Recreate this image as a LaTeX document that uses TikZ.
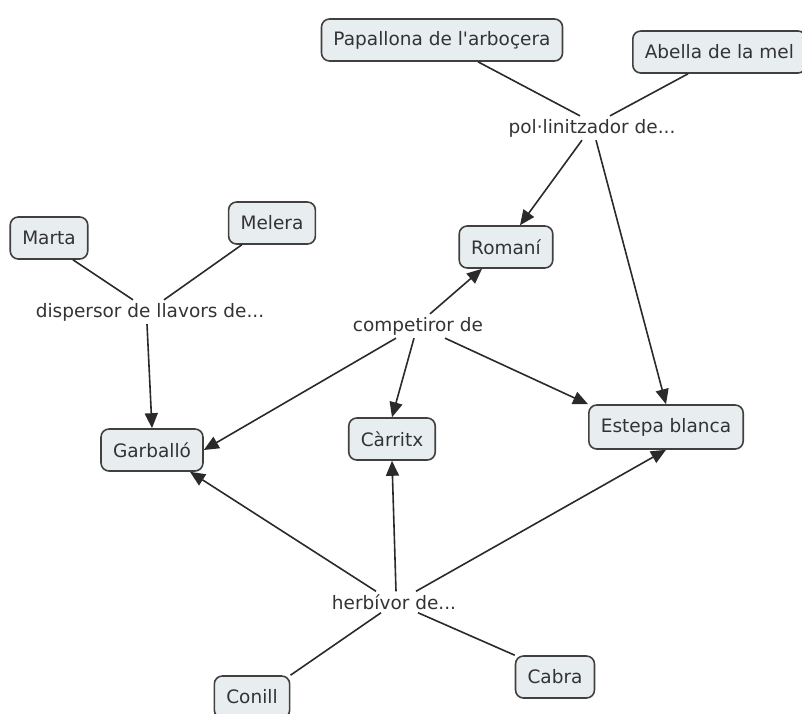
\documentclass[tikz,border=0pt]{standalone}
\usepackage{fontspec}
\setmainfont{DejaVu Sans}
\usetikzlibrary{arrows.meta,calc}
\definecolor{boxfill}{HTML}{E8EEF0}
\definecolor{boxline}{HTML}{404040}
\definecolor{txt}{HTML}{333333}
\definecolor{edge}{HTML}{2A2A2A}
\begin{document}
\begin{tikzpicture}[x=1pt,y=-1pt,
  concept/.style={draw=boxline,line width=1.6pt,fill=boxfill,rounded corners=8pt,
    text=txt,font=\fontsize{18.5}{20}\selectfont,inner xsep=12pt,minimum height=42pt},
  phrase/.style={text=txt,font=\fontsize{18.5}{20}\selectfont,inner sep=3pt},
  link/.style={draw=edge,line width=1.6pt},
  arr/.style={link,-{Triangle[length=15pt,width=13pt]}}]
\useasboundingbox (0,0) rectangle (802,713);
% concepts
\node[concept] (pap) at (442,40) {Papallona de l\textquotesingle arboçera};
\node[concept,anchor=west] (abe) at (632,52) {Abella de la mel\hspace{6pt}};
\node[concept] (rom) at (506,247) {Romaní};
\node[concept] (mar) at (49,238) {Marta};
\node[concept] (mel) at (272,223) {Melera};
\node[concept] (gar) at (152,450) {Garballó};
\node[concept] (car) at (392,439) {Càrritx};
\node[concept,minimum height=44pt] (est) at (666,427) {Estepa blanca};
\node[concept] (con) at (252,697) {Conill};
\node[concept] (cab) at (555,677) {Cabra};
% link phrases
\node[phrase] (pol) at (592,128) {pol·linitzador de...};
\node[phrase] (dis) at (150,312) {dispersor de llavors de...};
\node[phrase] (com) at (418,326) {competiror de};
\node[phrase] (her) at (394,602) {herbívor de...};
% connectors
\draw[link] ($(pap.south)+(36,0)$) -- (pol.north -| 580,0);
\draw[link] ($(abe.south west)+(56,0)$) -- (pol.north -| 610,0);
\draw[arr] (pol.south -| 582,0) -- ($(rom.north)+(14,0)$);
\draw[arr] (pol.south -| 596,0) -- (est.north);
\draw[link] ($(mar.south)+(24,0)$) -- (dis.north -| 133,0);
\draw[link] ($(mel.south west)+(14,0)$) -- (dis.north -| 164,0);
\draw[arr] (dis.south -| 147,0) -- (gar.north);
\draw[arr] (com.north -| 430,0) -- ($(rom.south)+(-24,0)$);
\draw[arr] (com.south -| 396,0) -- (gar.east);
\draw[arr] (com.south -| 414,0) -- (car.north);
\draw[arr] (com.south -| 445,0) -- (est.north west);
\draw[arr] (her.north -| 376,0) -- ($(gar.south)+(38,0)$);
\draw[arr] (her.north -| 396,0) -- (car.south);
\draw[arr] (her.north -| 416,0) -- (est.south);
\draw[link] (her.south -| 381,0) -- (con.north east);
\draw[link] (her.south -| 418,0) -- (cab.north west);
\end{tikzpicture}
\end{document}
